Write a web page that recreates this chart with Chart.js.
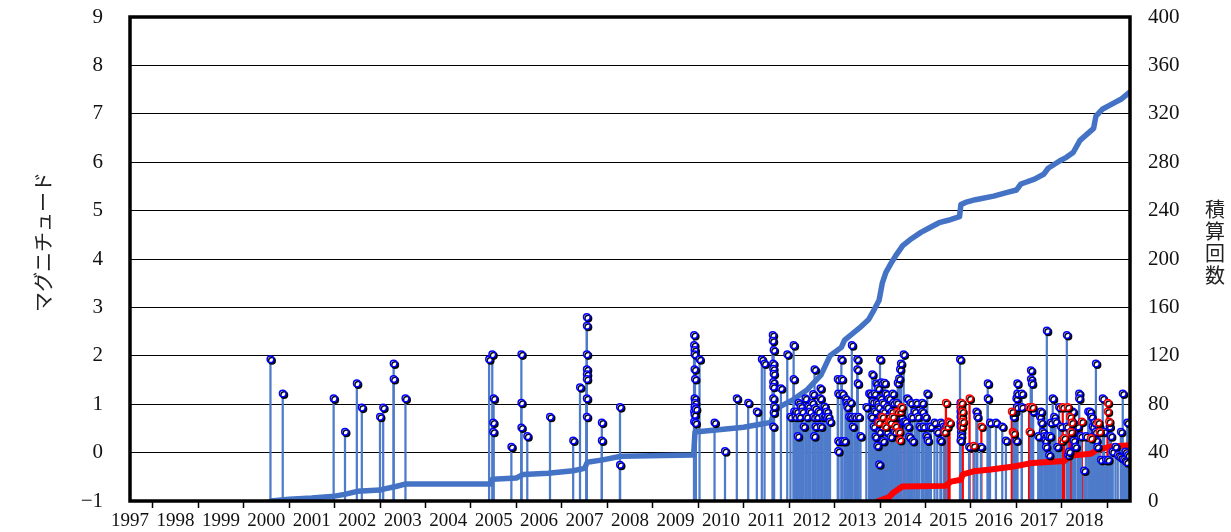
<!DOCTYPE html>
<html>
<head>
<meta charset="utf-8">
<script src="https://cdn.jsdelivr.net/npm/chart.js@4.4.1/dist/chart.umd.min.js"></script>
<style>
  html, body { margin: 0; padding: 0; background: #ffffff; }
  #wrap { width: 1231px; height: 532px; }
</style>
</head>
<body>
<div id="wrap"><canvas id="chart" width="1231" height="532"></canvas></div>
<script>
// Year labels along the time axis
const yearLabels = ['1997','1998','1999','2000','2001','2002','2003','2004','2005','2006','2007',
  '2008','2009','2010','2011','2012','2013','2014','2015','2016','2017','2018'];

// Earthquakes (decimal year, magnitude) – general events
const blueEvents = [
  [2000.09,1.93],[2000.36,1.22],[2001.48,1.12],[2001.73,0.43],[2001.99,1.43],[2002.10,0.93],
  [2002.50,0.74],[2002.57,0.93],[2002.80,1.84],[2002.80,1.52],[2003.06,1.12],
  [2004.90,1.93],[2004.97,2.03],[2004.99,0.62],[2004.99,0.43],[2005.00,1.12],[2005.39,0.12],
  [2005.61,2.03],[2005.61,1.03],[2005.61,0.52],[2005.74,0.34],[2006.24,0.74],[2006.75,0.25],
  [2006.90,1.35],[2007.05,2.80],[2007.05,2.62],[2007.05,2.03],[2007.05,1.72],[2007.05,1.62],
  [2007.05,1.52],[2007.05,1.12],[2007.05,0.74],[2007.38,0.62],[2007.38,0.25],[2007.78,0.94],
  [2007.78,-0.25],
  [2009.41,2.43],[2009.41,2.22],[2009.42,2.12],[2009.42,2.03],[2009.42,1.72],[2009.43,1.52],
  [2009.42,1.12],[2009.43,1.03],[2009.42,0.94],[2009.41,0.85],[2009.42,0.78],[2009.41,0.64],
  [2009.44,0.61],[2009.45,0.90],[2009.53,1.93],
  [2009.86,0.62],[2010.09,0.03],[2010.35,1.12],[2010.60,1.03],[2010.79,0.85],[2010.90,1.93],
  [2010.96,1.84],
  [2011.14,2.43],[2011.14,2.31],[2011.16,2.12],[2011.15,1.84],[2011.15,1.73],[2011.16,1.63],
  [2011.15,1.46],[2011.15,1.36],[2011.15,1.12],[2011.16,0.83],[2011.15,0.54],[2011.17,0.95],
  [2011.32,1.33],[2011.46,2.03],[2011.53,0.74],[2011.60,2.22],[2011.60,1.52],[2011.61,0.85],
  [2011.64,0.74],[2011.67,0.85],[2011.69,0.34],[2011.71,1.03],[2011.73,0.74],[2011.76,0.95],
  [2011.79,0.85],[2011.82,0.54],[2011.86,1.12],[2011.89,0.74],[2011.93,0.95],[2011.96,0.85],
  [2012.01,1.03],[2012.03,1.21],[2012.04,0.74],[2012.05,0.34],[2012.06,1.72],[2012.07,0.92],
  [2012.08,0.54],[2012.12,0.74],[2012.15,0.85],[2012.19,1.33],[2012.19,1.12],[2012.20,0.54],
  [2012.24,0.74],[2012.28,0.95],[2012.30,0.74],[2012.33,0.85],[2012.36,0.74],[2012.40,0.64],
  [2012.57,1.52],[2012.58,1.22],[2012.58,0.24],[2012.58,0.03],[2012.65,1.93],[2012.66,1.52],
  [2012.67,1.22],[2012.67,0.24],[2012.72,0.24],[2012.74,1.12],[2012.76,1.03],[2012.78,0.94],
  [2012.82,0.74],[2012.85,1.04],[2012.87,0.74],[2012.88,2.22],[2012.90,0.54],[2012.95,0.74],
  [2013.00,1.93],[2013.00,1.72],[2013.01,1.43],[2013.03,0.74],[2013.07,0.34],
  [2013.20,0.94],[2013.26,1.22],[2013.29,1.22],[2013.31,0.74],[2013.33,1.62],[2013.34,1.05],
  [2013.36,0.54],[2013.38,1.22],[2013.39,0.85],[2013.40,0.33],[2013.42,1.43],[2013.43,1.03],
  [2013.44,0.14],[2013.45,0.64],[2013.46,1.33],[2013.47,0.94],[2013.48,-0.24],[2013.49,0.43],
  [2013.50,1.93],[2013.51,1.12],[2013.52,0.74],[2013.53,1.45],[2013.54,0.54],[2013.56,1.03],
  [2013.57,0.24],[2013.58,0.85],[2013.60,1.44],[2013.61,0.64],[2013.63,1.22],[2013.65,0.43],
  [2013.66,0.94],[2013.68,0.74],[2013.70,1.12],[2013.72,0.54],[2013.74,0.33],[2013.76,0.85],
  [2013.78,1.22],[2013.79,1.03],[2013.81,0.64],[2013.83,0.43],[2013.85,0.74],[2013.87,1.03],
  [2013.89,1.44],[2013.90,0.54],[2013.92,1.53],[2013.94,1.72],[2013.96,1.84],[2013.97,0.74],
  [2014.02,2.03],[2014.03,0.64],
  [2014.06,0.64],[2014.10,1.12],[2014.12,0.54],[2014.14,0.33],[2014.18,1.03],[2014.20,0.74],
  [2014.22,0.24],[2014.26,0.85],[2014.30,1.03],[2014.33,0.74],[2014.37,0.54],[2014.43,1.03],
  [2014.43,0.85],[2014.46,0.54],[2014.50,0.74],[2014.52,0.34],[2014.54,1.22],[2014.55,0.25],
  [2014.58,0.54],[2014.62,0.54],[2014.70,0.62],[2014.76,0.43],[2014.83,0.25],[2014.84,0.62],
  [2014.90,0.54],[2014.96,0.54],
  [2015.26,1.93],[2015.27,1.03],[2015.27,0.94],[2015.27,0.85],[2015.27,0.74],[2015.27,0.62],
  [2015.27,0.54],[2015.28,0.43],[2015.28,0.34],[2015.27,0.25],[2015.46,0.12],[2015.57,0.12],
  [2015.62,0.85],[2015.64,0.74],[2015.72,0.12],[2015.87,1.43],[2015.87,1.12],[2015.92,0.62],
  [2016.05,0.62],[2016.19,0.54],[2016.27,0.25],[2016.44,0.74],[2016.47,0.85],[2016.50,1.12],
  [2016.50,0.25],[2016.51,0.94],[2016.52,1.22],[2016.52,1.43],[2016.62,1.22],[2016.62,0.94],
  [2016.82,1.70],[2016.82,1.52],[2016.84,1.43],[2016.87,0.85],
  [2016.98,0.34],[2017.02,0.74],[2017.04,0.85],[2017.05,0.62],[2017.08,0.43],[2017.12,0.34],
  [2017.14,0.25],[2017.15,0.12],[2017.17,2.52],[2017.19,0.34],[2017.22,-0.05],[2017.24,0.34],
  [2017.26,0.62],[2017.30,1.12],[2017.33,0.74],[2017.36,0.64],[2017.40,0.12],[2017.44,0.94],
  [2017.48,0.54],[2017.61,2.43],[2017.61,0.54],[2017.64,-0.05],[2017.66,0.02],[2017.74,0.85],
  [2017.75,0.62],[2017.76,0.43],[2017.76,0.25],[2017.78,0.12],[2017.80,0.12],[2017.85,0.54],
  [2017.88,1.22],[2017.88,1.12],[2017.92,0.34],[2017.99,-0.37],[2018.03,0.34],
  [2018.08,0.85],[2018.12,0.85],[2018.15,0.74],[2018.18,0.54],[2018.20,0.34],[2018.22,0.62],
  [2018.24,0.43],[2018.25,1.84],[2018.26,0.25],[2018.28,0.12],[2018.32,0.54],[2018.36,-0.15],
  [2018.40,1.12],[2018.43,0.43],[2018.47,-0.15],[2018.52,-0.15],[2018.55,0.54],[2018.58,0.34],
  [2018.62,0.02],[2018.68,0.12],[2018.73,-0.05],[2018.80,-0.10],[2018.80,0.43],[2018.84,1.22],
  [2018.87,-0.15],[2018.90,0.02],[2018.93,-0.20],[2018.94,0.62],[2018.96,-0.05]
];

// Earthquakes (decimal year, magnitude) – focus area events
const redEvents = [
  [2013.47,0.62],[2013.55,0.74],[2013.62,0.54],[2013.70,0.64],[2013.73,0.62],[2013.78,0.74],
  [2013.84,0.55],[2013.88,0.85],[2013.92,0.43],[2013.94,0.26],[2013.95,0.85],[2013.97,0.94],
  [2014.92,0.43],[2014.95,1.03],[2014.98,0.54],[2015.00,0.64],[2015.03,0.62],
  [2015.28,0.94],[2015.29,1.03],[2015.30,0.74],[2015.30,0.54],[2015.31,0.85],[2015.32,0.64],
  [2015.47,1.12],[2015.56,0.14],[2015.73,0.54],
  [2016.40,0.85],[2016.42,0.43],[2016.44,0.40],
  [2016.78,0.94],[2016.79,0.43],[2016.85,0.94],
  [2017.50,0.25],[2017.52,0.94],
  [2017.55,0.30],[2017.63,0.94],[2017.68,0.74],[2017.70,0.43],[2017.72,0.62],
  [2017.94,0.64],[2018.14,0.30],
  [2018.30,0.62],[2018.33,0.43],[2018.51,1.03],[2018.51,0.85],[2018.54,0.64]
];

// Cumulative count, all events (decimal year, count)
const cumAll = [
  [2000.10,0],[2000.50,1.5],[2001.00,2.5],[2001.50,4],[2001.72,5.5],[2002.00,8],[2002.50,9],
  [2002.60,10],[2002.85,12],[2003.05,14],[2004.93,14],[2004.97,18],[2005.50,19],[2005.65,22],
  [2006.20,23],[2006.75,25],[2007.00,27],[2007.06,32],[2007.40,34],[2007.80,37],[2009.40,38],
  [2009.43,57],[2010.00,59],[2010.50,61],[2010.80,63],[2011.10,65],[2011.16,72],[2011.30,78],
  [2011.60,84],[2011.90,92],[2012.20,104],[2012.40,120],[2012.65,127],[2012.72,133],
  [2013.05,143],[2013.25,150],[2013.37,158],[2013.48,166],[2013.55,180],[2013.63,189],
  [2013.72,195],[2013.85,203],[2014.00,211],[2014.20,217],[2014.40,222],[2014.60,226],
  [2014.80,230],[2015.00,232],[2015.25,235],[2015.28,245],[2015.40,247],[2015.60,249],
  [2016.00,252],[2016.30,255],[2016.50,257],[2016.60,262],[2016.90,266],[2017.10,270],
  [2017.20,275],[2017.45,281],[2017.60,284],[2017.75,288],[2017.90,298],[2018.05,303],
  [2018.20,308],[2018.25,318],[2018.40,324],[2018.60,328],[2018.80,332],[2019.00,338]
];

// Cumulative count, focus area events (decimal year, count)
const cumFocus = [
  [2013.46,0],[2013.69,3],[2013.80,7],[2013.99,12],[2014.94,12.5],[2015.06,16],[2015.28,17.5],
  [2015.32,22],[2015.56,24.5],[2015.94,26],[2016.44,28.5],[2016.86,31.5],[2017.55,33],
  [2017.70,37.5],[2018.14,39],[2018.29,42.5],[2018.58,45],[2019.00,46]
];

const toPoint = e => ({ x: e[0], y: e[1] });
const toStem = e => ({ x: e[0], y: [-1, e[1]] });

// Dark offset shadow behind the circle markers
const markerShadow = {
  id: 'markerShadow',
  beforeDatasetDraw(chart, args) {
    const ds = chart.data.datasets[args.index];
    if (ds.shadowed) {
      const c = chart.ctx;
      c.save();
      c.shadowColor = 'rgba(0,0,0,0.95)';
      c.shadowOffsetX = 1.5;
      c.shadowOffsetY = 1.5;
      c.shadowBlur = 0;
    }
  },
  afterDatasetDraw(chart, args) {
    const ds = chart.data.datasets[args.index];
    if (ds.shadowed) chart.ctx.restore();
  }
};

// Plot frame and the two axis titles
const frameAndTitles = {
  id: 'frameAndTitles',
  afterDraw(chart) {
    const c = chart.ctx;
    const a = chart.chartArea;
    c.save();
    c.strokeStyle = '#000';
    c.lineWidth = 3.5;
    c.strokeRect(a.left, a.top, a.right - a.left, a.bottom - a.top);

    c.fillStyle = '#222';
    c.font = '20px "Noto Sans CJK JP"';
    c.textAlign = 'center';
    c.textBaseline = 'middle';
    c.save();
    c.translate(43, 242);
    c.rotate(-Math.PI / 2);
    c.fillText('マグニチュード', 0, 0);
    c.restore();

    const right = '積算回数';
    for (let i = 0; i < right.length; i++) {
      c.fillText(right[i], 1215, 209 + i * 22);
    }
    c.restore();
  }
};

// Keep the plot area fixed: no extra room for overhanging tick labels
const noOverhang = s => { s.paddingTop = 0; s.paddingBottom = 0; s.paddingLeft = 0; s.paddingRight = 0; };

const tickFont = { family: '"Liberation Serif", serif', size: 21 };

new Chart(document.getElementById('chart'), {
  type: 'scatter',
  data: {
    datasets: [
      {
        type: 'bar', data: blueEvents.map(toStem), yAxisID: 'y',
        backgroundColor: '#4f7bcb', borderWidth: 0, barThickness: 1.6, grouped: false, order: 7
      },
      {
        type: 'bar', data: redEvents.map(toStem), yAxisID: 'y',
        backgroundColor: '#ff0000', borderWidth: 0, barThickness: 1.6, grouped: false, order: 8
      },
      {
        type: 'line', data: cumAll.map(toPoint), yAxisID: 'y2',
        borderColor: '#4472c4', borderWidth: 5.5, pointRadius: 0, tension: 0, fill: false,
        borderCapStyle: 'round', borderJoinStyle: 'round', order: 5
      },
      {
        type: 'line', data: cumFocus.map(toPoint), yAxisID: 'y2',
        borderColor: '#ff0000', borderWidth: 6, pointRadius: 0, tension: 0, fill: false,
        borderCapStyle: 'round', borderJoinStyle: 'round', order: 4
      },
      {
        type: 'scatter', data: blueEvents.map(toPoint), yAxisID: 'y', shadowed: true,
        pointRadius: 3.3, pointBorderWidth: 1.5, borderColor: '#0000ff',
        backgroundColor: '#ffffff', order: 2
      },
      {
        type: 'scatter', data: redEvents.map(toPoint), yAxisID: 'y', shadowed: true,
        pointRadius: 3.3, pointBorderWidth: 1.5, borderColor: '#ff0000',
        backgroundColor: '#ffffff', order: 1
      }
    ]
  },
  options: {
    responsive: false,
    animation: false,
    layout: { padding: { top: 17, left: 0, right: 0, bottom: 0 } },
    plugins: { legend: { display: false }, tooltip: { enabled: false } },
    scales: {
      x: {
        type: 'linear', min: 1997, max: 2019, offset: false,
        afterFit(s) { s.height = 31; noOverhang(s); },
        border: { display: false },
        grid: { drawOnChartArea: false, drawTicks: true, tickLength: 7, tickWidth: 1.5, tickColor: '#000' },
        ticks: {
          stepSize: 1, autoSkip: false, maxRotation: 0, padding: 2, color: '#111',
          font: { family: '"Liberation Serif", serif', size: 19 },
          callback: v => yearLabels[Math.round(v - 1997)] ?? null
        }
      },
      y: {
        position: 'left', min: -1, max: 9,
        afterFit(s) { s.width = 130; noOverhang(s); },
        border: { display: false },
        grid: { color: '#000', lineWidth: 1, drawTicks: false },
        ticks: {
          stepSize: 1, padding: 27, color: '#111', font: tickFont,
          callback: v => (v < 0 ? '\u2212' + Math.abs(v) : String(v))
        }
      },
      y2: {
        position: 'right', min: 0, max: 400,
        afterFit(s) { s.width = 101; noOverhang(s); },
        border: { display: false },
        grid: { display: false, drawTicks: false },
        ticks: { stepSize: 40, padding: 18, color: '#111', font: tickFont }
      }
    }
  },
  plugins: [markerShadow, frameAndTitles]
});
</script>
</body>
</html>
